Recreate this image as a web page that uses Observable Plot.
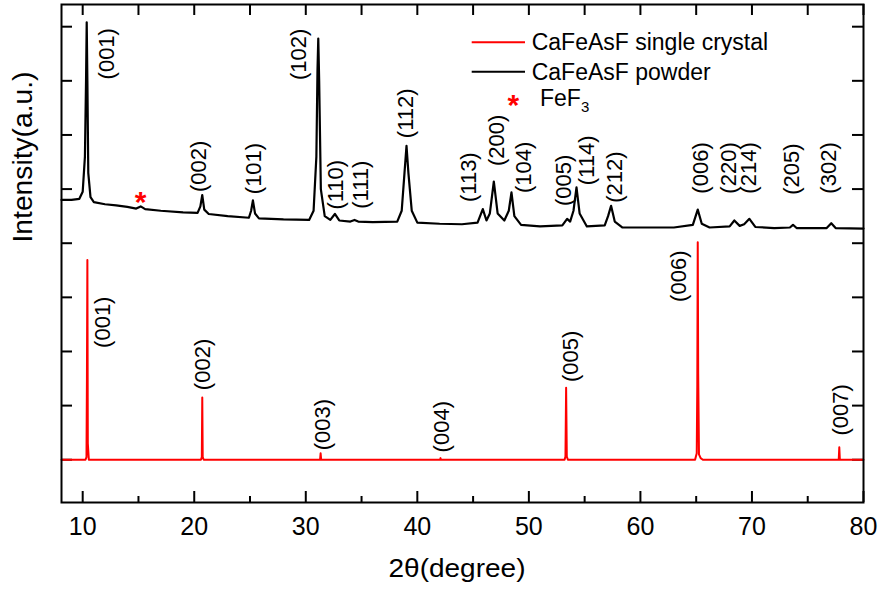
<!DOCTYPE html>
<html><head><meta charset="utf-8">
<script src="https://cdn.jsdelivr.net/npm/d3@7"></script>
<script src="https://cdn.jsdelivr.net/npm/@observablehq/plot@0.6"></script>
<style>
body{margin:0;background:#fff;}
#chart{position:relative;width:882px;height:592px;}
</style>
</head><body><div id="chart"></div>
<script>
// ---- data ----
// powder pattern (black), 2θ in degrees, intensity in arbitrary units (offset)
const powderTheta = [8.1, 9.0, 9.7, 10.0, 10.2, 10.3, 10.36, 10.42, 10.5, 10.7, 11.0, 12, 13, 14, 14.8, 15.2, 15.6, 17, 19, 20.3, 20.55, 20.72, 20.9, 21.3, 23, 24.9, 25.1, 25.26, 25.45, 25.8, 28, 30.3, 30.7, 30.95, 31.05, 31.12, 31.2, 31.35, 31.7, 32.2, 32.61, 33.0, 34.0, 34.37, 34.7, 36, 38.2, 38.6, 38.85, 39.03, 39.2, 39.5, 40, 42, 44, 45.4, 45.87, 46.2, 46.5, 46.86, 47.2, 47.8, 48.2, 48.44, 48.7, 49.3, 51, 53.0, 53.43, 53.7, 54.0, 54.27, 54.55, 55.2, 56.8, 57.1, 57.37, 57.7, 58.4, 60, 63, 64.7, 65.14, 65.5, 66.2, 68.0, 68.42, 68.9, 69.3, 69.77, 70.3, 72, 73.4, 73.68, 74.0, 76.7, 77.11, 77.5, 80];
const powderIntensity = [4.80, 4.80, 4.82, 4.95, 5.6, 7.0, 8.08, 7.0, 5.3, 4.85, 4.76, 4.72, 4.70, 4.67, 4.64, 4.68, 4.63, 4.60, 4.57, 4.56, 4.68, 4.89, 4.62, 4.54, 4.50, 4.47, 4.60, 4.79, 4.55, 4.46, 4.44, 4.43, 4.6, 5.6, 7.2, 7.78, 7.0, 5.0, 4.5, 4.43, 4.54, 4.42, 4.40, 4.43, 4.40, 4.39, 4.40, 4.6, 5.3, 5.80, 5.3, 4.6, 4.38, 4.36, 4.35, 4.38, 4.63, 4.42, 4.55, 5.14, 4.55, 4.42, 4.6, 4.94, 4.5, 4.34, 4.31, 4.33, 4.45, 4.40, 4.6, 5.03, 4.55, 4.31, 4.33, 4.5, 4.69, 4.40, 4.29, 4.29, 4.29, 4.34, 4.62, 4.36, 4.29, 4.31, 4.42, 4.32, 4.35, 4.45, 4.30, 4.28, 4.29, 4.34, 4.28, 4.28, 4.37, 4.28, 4.27];

// single crystal pattern (red)
const crystalTheta = [8.1, 10.25, 10.34, 10.38, 10.42, 10.46, 10.55, 20.6, 20.68, 20.72, 20.76, 20.85, 31.28, 31.33, 31.38, 42.05, 42.08, 42.11, 53.2, 53.28, 53.34, 53.40, 53.5, 64.9, 65.05, 65.1, 65.14, 65.18, 65.25, 65.4, 65.6, 77.78, 77.83, 77.88, 80];
const crystalIntensity = [0, 0, 0.05, 1.5, 3.69, 0.3, 0, 0, 0.05, 1.15, 0.05, 0, 0, 0.12, 0, 0, 0.03, 0, 0, 0.06, 1.33, 0.06, 0, 0, 0.12, 1.4, 4.02, 1.6, 0.1, 0.03, 0, 0, 0.23, 0, 0];

// peak index labels
const powderLabels = ["(001)","(002)","(101)","(102)","(110)","(111)","(112)","(113)","(200)","(104)","(005)","(114)","(212)","(006)","(220)","(214)","(205)","(302)"];
const powderLabelTheta = [12.21, 20.42, 25.35, 29.43, 32.67, 34.91, 38.94, 44.62, 47.16, 49.55, 53.13, 55.22, 57.76, 65.47, 67.91, 69.77, 73.59, 76.87];
const powderLabelY = [7.50, 5.42, 5.38, 7.49, 5.08, 5.08, 6.40, 5.22, 5.90, 5.40, 5.16, 5.53, 5.22, 5.39, 5.39, 5.39, 5.37, 5.39];

const crystalLabels = ["(001)","(002)","(003)","(004)","(005)","(006)","(007)"];
const crystalLabelTheta = [11.84, 20.80, 31.55, 42.23, 53.76, 63.42, 77.95];
const crystalLabelY = [2.54, 1.76, 0.65, 0.61, 1.91, 3.39, 0.92];

// FeF3 impurity marker
const impurityTheta = [15.2];
const impurityY = [4.88];

// ticks
const xMajorTicks = [10, 20, 30, 40, 50, 60, 70, 80];
const xMinorTicks = [15, 25, 35, 45, 55, 65, 75];
const yTicks = [0, 1, 2, 3, 4, 5, 6, 7, 8];

const seriesNames = ["CaFeAsF single crystal", "CaFeAsF powder"];
const seriesColors = ["#ff0000", "#000000"];

// ---- build tables ----
const powder = powderTheta.map((t, i) => ({t, v: powderIntensity[i]}));
const crystal = crystalTheta.map((t, i) => ({t, v: crystalIntensity[i]}));
const pLab = powderLabels.map((s, i) => ({s, t: powderLabelTheta[i], v: powderLabelY[i]}));
const cLab = crystalLabels.map((s, i) => ({s, t: crystalLabelTheta[i], v: crystalLabelY[i]}));
const imp = impurityTheta.map((t, i) => ({t, v: impurityY[i]}));

const FONT = '"Liberation Sans", Arial, sans-serif';

const svg = Plot.plot({
  width: 882, height: 592,
  marginLeft: 61, marginRight: 19, marginTop: 4, marginBottom: 90,
  style: {fontFamily: FONT, background: "white", color: "black", overflow: "visible"},
  x: {domain: [8.1, 80], axis: null},
  y: {domain: [-0.79, 8.41], axis: null},
  marks: [
    // inward ticks
    Plot.ruleX(xMajorTicks, {insetTop: 487, strokeWidth: 2, stroke: "black"}),
    Plot.ruleX(xMinorTicks, {insetTop: 492, strokeWidth: 2, stroke: "black"}),
    Plot.ruleX(xMajorTicks.concat(xMinorTicks), {insetBottom: 487, strokeWidth: 2, stroke: "black"}),
    Plot.ruleY(yTicks, {insetRight: 791, strokeWidth: 2, stroke: "black"}),
    Plot.ruleY(yTicks, {insetLeft: 791, strokeWidth: 2, stroke: "black"}),
    // tick labels
    Plot.text(xMajorTicks, {x: d => d, frameAnchor: "bottom", lineAnchor: "top", dy: 15, fontSize: 25, fill: "black"}),
    // series
    Plot.line(powder, {x: "t", y: "v", stroke: seriesColors[1], strokeWidth: 2.2}),
    Plot.line(crystal, {x: "t", y: "v", stroke: seriesColors[0], strokeWidth: 2}),
    // labels
    Plot.text(pLab, {x: "t", y: "v", text: "s", rotate: -90, fontSize: 22, fill: "black"}),
    Plot.text(cLab, {x: "t", y: "v", text: "s", rotate: -90, fontSize: 22, fill: "black"}),
    Plot.text(imp, {x: "t", y: "v", text: () => "*", fontSize: 30, fontWeight: "bold", fill: "#ff0000", dy: 7}),
    // axis titles
    Plot.text(["2θ(degree)"], {frameAnchor: "bottom", lineAnchor: "top", dy: 57, dx: -5.5, fontSize: 25, fill: "black"}),
    Plot.text(["Intensity(a.u.)"], {frameAnchor: "left", rotate: -90, dx: -38.5, dy: -11, fontSize: 27, fill: "black"}),
    Plot.frame({stroke: "black", strokeWidth: 2})
  ]
});

// stretch axis titles to the reference widths
d3.select(svg).selectAll("text").filter(function(){ return this.textContent === "2θ(degree)"; })
  .attr("textLength", 137).attr("lengthAdjust", "spacingAndGlyphs");
d3.select(svg).selectAll("text").filter(function(){ return this.textContent === "Intensity(a.u.)"; })
  .attr("textLength", 171).attr("lengthAdjust", "spacingAndGlyphs");

// legend
const lg = d3.select(svg).append("g").attr("font-family", FONT).attr("font-size", 23)
  .attr("fill", "black").attr("text-anchor", "start");
[0, 1].forEach(i => {
  const yy = 42.3 + i * 29.4;
  lg.append("line").attr("x1", 471.7).attr("x2", 525).attr("y1", yy).attr("y2", yy)
    .attr("stroke", seriesColors[i]).attr("stroke-width", 2);
  lg.append("text").attr("x", 531.7).attr("y", yy + 7.8).attr("text-anchor", "start").text(seriesNames[i]);
});
lg.append("text").attr("x", 513.3).attr("y", 114.5).attr("text-anchor", "middle")
  .attr("font-size", 30).attr("font-weight", "bold").attr("fill", "#ff0000").text("*");
const fe = lg.append("text").attr("x", 540).attr("y", 106).attr("text-anchor", "start");
fe.append("tspan").text("FeF");
fe.append("tspan").attr("font-size", 15).attr("dy", 6).text("3");

document.getElementById("chart").appendChild(svg);
</script>
</body></html>
